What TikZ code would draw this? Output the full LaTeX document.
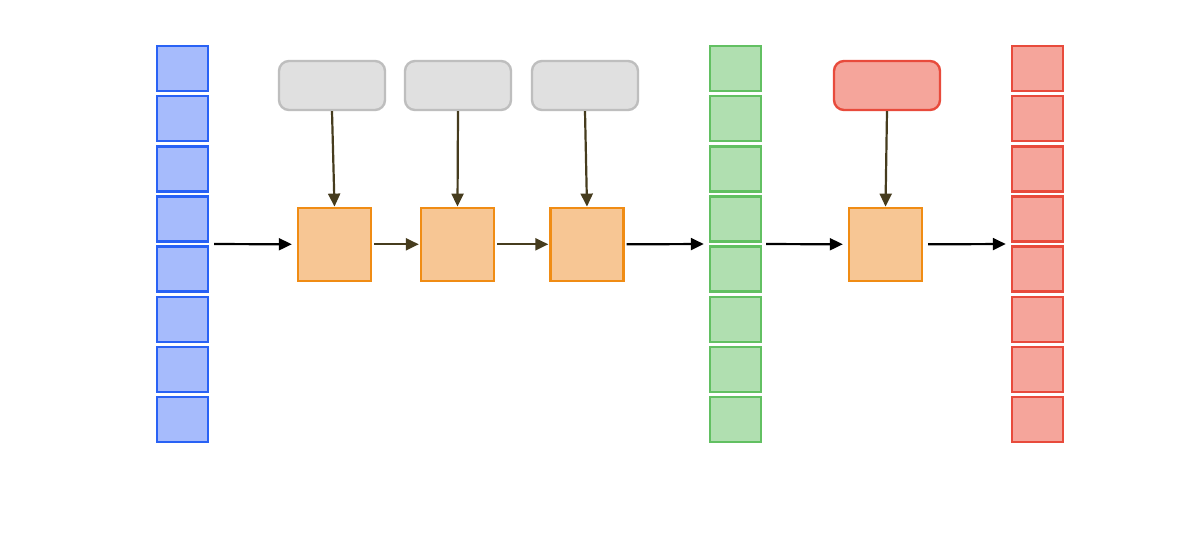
\documentclass[tikz,border=0pt]{standalone}
\usepackage{tikz}
\usetikzlibrary{arrows.meta,calc}

\definecolor{blueFill}{RGB}{166,187,252}
\definecolor{blueLine}{RGB}{41,98,245}
\definecolor{greenFill}{RGB}{176,223,176}
\definecolor{greenLine}{RGB}{98,192,98}
\definecolor{redFill}{RGB}{245,165,155}
\definecolor{redLine}{RGB}{232,75,60}
\definecolor{orangeFill}{RGB}{247,198,148}
\definecolor{orangeLine}{RGB}{240,140,20}
\definecolor{grayFill}{RGB}{224,224,224}
\definecolor{grayLine}{RGB}{190,190,190}
\definecolor{oliveLine}{RGB}{70,60,30}

\tikzset{
  cell/.style={draw, line width=2.4pt, minimum width=51pt, minimum height=45pt, inner sep=0pt},
  layer/.style={draw=orangeLine, fill=orangeFill, line width=2.4pt, minimum width=73pt, minimum height=73pt, inner sep=0pt},
  tag/.style={draw, line width=2.4pt, rounded corners=10pt, minimum width=106pt, minimum height=49pt, inner sep=0pt},
  flow/.style={line width=2.2pt, -{Triangle[length=13pt,width=12pt]}},
}

\begin{document}
\begin{tikzpicture}[x=1pt,y=-1pt]
\useasboundingbox[fill=white] (0,0) rectangle (1200,554);
% Drawing the three columns
\foreach \i in {1,...,8} {
  \node[cell, draw=blueLine, fill=blueFill] (b\i) at (182.5, {68.5+50.15*(\i-1)}) {};
  \node[cell, draw=greenLine, fill=greenFill] (g\i) at (735.5, {68.5+50.15*(\i-1)}) {};
  \node[cell, draw=redLine, fill=redFill] (r\i) at (1037.5, {68.5+50.15*(\i-1)}) {};
}
% Midpoints of the columns
\coordinate (bmid) at ($(b4.south east)!0.5!(b5.north east)$);
\coordinate (gin) at ($(g4.south west)!0.5!(g5.north west)$);
\coordinate (gout) at ($(g4.south east)!0.5!(g5.north east)$);
\coordinate (rin) at ($(r4.south west)!0.5!(r5.north west)$);
% Drawing the layers
\node[layer] (l1) at (334.5,244.3) {};
\node[layer] (l2) at (457.5,244.3) {};
\node[layer] (l3) at (587,244.3) {};
\node[layer] (l4) at (885.5,244.3) {};
% Drawing the tags
\node[tag, draw=grayLine, fill=grayFill] (t1) at (332,85.5) {};
\node[tag, draw=grayLine, fill=grayFill] (t2) at (458,85.5) {};
\node[tag, draw=grayLine, fill=grayFill] (t3) at (585,85.5) {};
\node[tag, draw=redLine, fill=redFill] (t4) at (887,85.5) {};
% Done with boxes; drawing arrows
\draw[flow] ([xshift=5pt]bmid) -- ([xshift=-5pt]l1.west);
\draw[flow, oliveLine] ([xshift=2pt]l1.east) -- ([xshift=-1pt]l2.west);
\draw[flow, oliveLine] ([xshift=2pt]l2.east) -- ([xshift=-1pt]l3.west);
\draw[flow] ([xshift=2pt]l3.east) -- ([xshift=-5pt]gin);
\draw[flow] ([xshift=4pt]gout) -- ([xshift=-5pt]l4.west);
\draw[flow] ([xshift=5pt]l4.east) -- ([xshift=-5pt]rin);
\foreach \k in {1,...,4}
  \draw[flow, oliveLine] (t\k.south) -- (l\k.north);
\end{tikzpicture}
\end{document}
